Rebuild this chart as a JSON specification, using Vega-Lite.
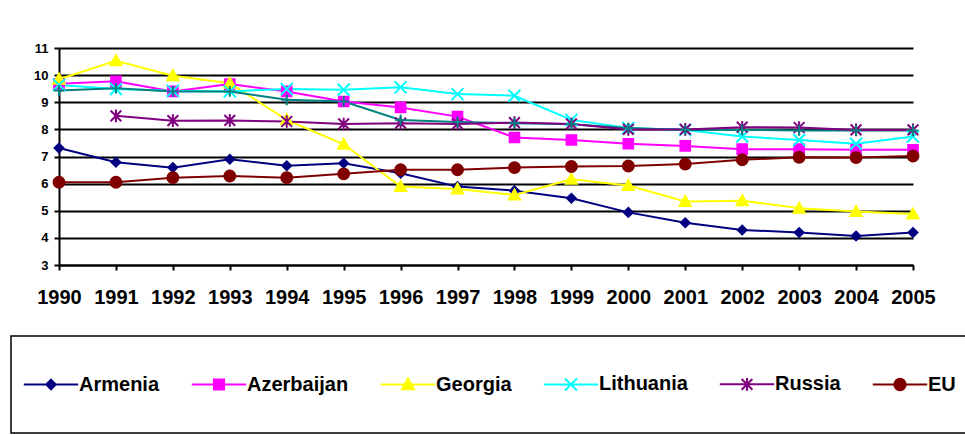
{
  "$schema": "https://vega.github.io/schema/vega-lite/v6.json",
  "width": 854,
  "height": 217,
  "autosize": {"type": "none"},
  "padding": {"left": 59, "top": 48, "right": 52, "bottom": 170},
  "background": "white",
  "config": {
    "view": {"stroke": null},
    "font": "Liberation Sans",
    "legend": {"strokeColor": "black", "strokeWidth": 1.5}
  },
  "data": {
    "values": [
      {"year": "1990", "Armenia": 7.31, "Azerbaijan": 9.68, "Georgia": 9.85, "Lithuania": 9.64, "Russia": null, "EU": 6.05, "CIS": 9.43},
      {"year": "1991", "Armenia": 6.79, "Azerbaijan": 9.77, "Georgia": 10.53, "Lithuania": 9.49, "Russia": 8.5, "EU": 6.05, "CIS": 9.52},
      {"year": "1992", "Armenia": 6.59, "Azerbaijan": 9.4, "Georgia": 9.98, "Lithuania": 9.42, "Russia": 8.32, "EU": 6.22, "CIS": 9.4},
      {"year": "1993", "Armenia": 6.9, "Azerbaijan": 9.67, "Georgia": 9.7, "Lithuania": 9.4, "Russia": 8.33, "EU": 6.28, "CIS": 9.4},
      {"year": "1994", "Armenia": 6.66, "Azerbaijan": 9.4, "Georgia": 8.35, "Lithuania": 9.49, "Russia": 8.29, "EU": 6.22, "CIS": 9.09},
      {"year": "1995", "Armenia": 6.75, "Azerbaijan": 9.03, "Georgia": 7.45, "Lithuania": 9.46, "Russia": 8.2, "EU": 6.36, "CIS": 9.03},
      {"year": "1996", "Armenia": 6.38, "Azerbaijan": 8.81, "Georgia": 5.89, "Lithuania": 9.55, "Russia": 8.23, "EU": 6.51, "CIS": 8.35},
      {"year": "1997", "Armenia": 5.89, "Azerbaijan": 8.47, "Georgia": 5.8, "Lithuania": 9.3, "Russia": 8.2, "EU": 6.51, "CIS": 8.27},
      {"year": "1998", "Armenia": 5.74, "Azerbaijan": 7.7, "Georgia": 5.58, "Lithuania": 9.24, "Russia": 8.25, "EU": 6.59, "CIS": 8.23},
      {"year": "1999", "Armenia": 5.46, "Azerbaijan": 7.61, "Georgia": 6.16, "Lithuania": 8.35, "Russia": 8.2, "EU": 6.63, "CIS": 8.19},
      {"year": "2000", "Armenia": 4.94, "Azerbaijan": 7.47, "Georgia": 5.93, "Lithuania": 8.05, "Russia": 8.0, "EU": 6.65, "CIS": 8.05},
      {"year": "2001", "Armenia": 4.56, "Azerbaijan": 7.39, "Georgia": 5.34, "Lithuania": 7.98, "Russia": 8.0, "EU": 6.72, "CIS": 7.98},
      {"year": "2002", "Armenia": 4.29, "Azerbaijan": 7.27, "Georgia": 5.37, "Lithuania": 7.74, "Russia": 8.08, "EU": 6.88, "CIS": 7.98},
      {"year": "2003", "Armenia": 4.2, "Azerbaijan": 7.27, "Georgia": 5.09, "Lithuania": 7.61, "Russia": 8.07, "EU": 6.97, "CIS": 7.96},
      {"year": "2004", "Armenia": 4.07, "Azerbaijan": 7.25, "Georgia": 4.97, "Lithuania": 7.47, "Russia": 7.98, "EU": 6.96, "CIS": 7.96},
      {"year": "2005", "Armenia": 4.2, "Azerbaijan": 7.25, "Georgia": 4.88, "Lithuania": 7.74, "Russia": 7.98, "EU": 7.02, "CIS": 7.96}
    ]
  },
  "transform": [
    {"fold": ["Armenia", "Azerbaijan", "Georgia", "Lithuania", "Russia", "EU", "CIS"], "as": ["country", "value"]},
    {"filter": "isValid(datum.value)"}
  ],
  "encoding": {
    "x": {
      "field": "year", "type": "ordinal",
      "scale": {"type": "point", "padding": 0},
      "axis": {
        "title": null, "labelAngle": 0, "labelFont": "Liberation Sans", "labelFontSize": 20, "labelFontWeight": "bold",
        "labelColor": "black", "labelPadding": 17, "labelOverlap": false, "tickSize": 5, "tickWidth": 2, "tickColor": "black",
        "domainColor": "black", "domainWidth": 2, "grid": false
      }
    },
    "y": {
      "field": "value", "type": "quantitative",
      "scale": {"domain": [3, 11], "nice": false, "zero": false},
      "axis": {
        "title": null, "values": [3, 4, 5, 6, 7, 8, 9, 10, 11], "grid": true, "gridColor": "black", "gridWidth": 2, "gridOpacity": 1,
        "labelFont": "Liberation Sans", "labelFontSize": 13, "labelFontWeight": "bold", "labelColor": "black", "labelPadding": 6,
        "tickSize": 5, "tickWidth": 2, "tickColor": "black", "domainColor": "black", "domainWidth": 2
      }
    }
  },
  "layer": [
    {
      "mark": {"type": "line", "strokeWidth": 2},
      "encoding": {
        "color": {
          "field": "country", "type": "nominal",
          "scale": {
            "domain": ["Armenia", "Azerbaijan", "Georgia", "Lithuania", "Russia", "EU", "CIS"],
            "range": ["#000080", "#FF00FF", "#FFFF00", "#00FFFF", "#800080", "#800000", "#008080"]
          },
          "legend": {
            "orient": "none", "legendX": -48, "legendY": 288, "direction": "horizontal", "title": null,
            "values": ["Armenia", "Azerbaijan", "Georgia", "Lithuania", "Russia", "EU"],
            "padding": 38, "labelFont": "Liberation Sans", "labelFontSize": 20, "labelFontWeight": "bold", "labelColor": "black",
            "labelOffset": 18, "symbolOffset": -8, "columnPadding": 27, "symbolSize": 160, "symbolStrokeWidth": 2, "symbolOpacity": 1
          }
        }
      }
    },
    {"transform": [{"filter": "datum.country === 'Armenia'"}], "mark": {"type": "point", "shape": "M0,-0.75L0.75,0L0,0.75L-0.75,0Z", "filled": true, "fill": "#000080", "stroke": "#000080", "strokeWidth": 1.5, "size": 160, "opacity": 1}},
    {"transform": [{"filter": "datum.country === 'Azerbaijan'"}], "mark": {"type": "point", "shape": "M-0.8,-0.8L0.8,-0.8L0.8,0.8L-0.8,0.8Z", "filled": true, "fill": "#FF00FF", "stroke": "#FF00FF", "strokeWidth": 1.5, "size": 160, "opacity": 1}},
    {"transform": [{"filter": "datum.country === 'Georgia'"}], "mark": {"type": "point", "shape": "M0,-0.95L0.95,0.75L-0.95,0.75Z", "filled": true, "fill": "#FFFF00", "stroke": "#FFFF00", "strokeWidth": 1.5, "size": 160, "opacity": 1}},
    {"transform": [{"filter": "datum.country === 'Lithuania'"}], "mark": {"type": "point", "shape": "M-0.95,-0.95L0.95,0.95M-0.95,0.95L0.95,-0.95", "filled": true, "fill": "#00FFFF", "stroke": "#00FFFF", "strokeWidth": 2, "size": 160, "opacity": 1}},
    {"transform": [{"filter": "datum.country === 'Russia'"}], "mark": {"type": "point", "shape": "M-0.85,-0.85L0.85,0.85M-0.85,0.85L0.85,-0.85M0,-1L0,1", "filled": true, "fill": "#800080", "stroke": "#800080", "strokeWidth": 2, "size": 160, "opacity": 1}},
    {"transform": [{"filter": "datum.country === 'EU'"}], "mark": {"type": "point", "shape": "M0.9,0L0.831,0.344L0.636,0.636L0.344,0.831L0,0.9L-0.344,0.831L-0.636,0.636L-0.831,0.344L-0.9,0L-0.831,-0.344L-0.636,-0.636L-0.344,-0.831L0,-0.9L0.344,-0.831L0.636,-0.636L0.831,-0.344Z", "filled": true, "fill": "#800000", "stroke": "#800000", "strokeWidth": 1.5, "size": 160, "opacity": 1}},
    {"transform": [{"filter": "datum.country === 'CIS'"}], "mark": {"type": "point", "shape": "M0,-0.85L0,0.85M-0.85,0L0.85,0", "filled": true, "fill": "#008080", "stroke": "#008080", "strokeWidth": 2, "size": 160, "opacity": 1}},
    {
      "mark": {"type": "point", "filled": true, "opacity": 0, "size": 160, "strokeWidth": 2},
      "encoding": {
        "color": {
          "field": "country", "type": "nominal",
          "scale": {
            "domain": ["Armenia", "Azerbaijan", "Georgia", "Lithuania", "Russia", "EU", "CIS"],
            "range": ["#000080", "#FF00FF", "#FFFF00", "#00FFFF", "#800080", "#800000", "#008080"]
          },
          "legend": {
            "orient": "none", "legendX": -48, "legendY": 288, "direction": "horizontal", "title": null,
            "values": ["Armenia", "Azerbaijan", "Georgia", "Lithuania", "Russia", "EU"],
            "padding": 38, "labelFont": "Liberation Sans", "labelFontSize": 20, "labelFontWeight": "bold", "labelColor": "black",
            "labelOffset": 18, "symbolOffset": -8, "columnPadding": 27, "symbolSize": 160, "symbolStrokeWidth": 2, "symbolOpacity": 1
          }
        },
        "shape": {
          "field": "country", "type": "nominal",
          "scale": {
            "domain": ["Armenia", "Azerbaijan", "Georgia", "Lithuania", "Russia", "EU", "CIS"],
            "range": [
              "M-4.3,0L4.3,0M0,-0.75L0.75,0L0,0.75L-0.75,0Z",
              "M-4.3,0L4.3,0M-0.8,-0.8L0.8,-0.8L0.8,0.8L-0.8,0.8Z",
              "M-4.3,0L4.3,0M0,-0.95L0.95,0.75L-0.95,0.75Z",
              "M-4.3,0L4.3,0M-0.95,-0.95L0.95,0.95M-0.95,0.95L0.95,-0.95",
              "M-4.3,0L4.3,0M-0.85,-0.85L0.85,0.85M-0.85,0.85L0.85,-0.85M0,-1L0,1",
              "M-4.3,0L4.3,0M0.9,0L0.831,0.344L0.636,0.636L0.344,0.831L0,0.9L-0.344,0.831L-0.636,0.636L-0.831,0.344L-0.9,0L-0.831,-0.344L-0.636,-0.636L-0.344,-0.831L0,-0.9L0.344,-0.831L0.636,-0.636L0.831,-0.344Z",
              "M-4.3,0L4.3,0M0,-0.85L0,0.85M-0.85,0L0.85,0"
            ]
          },
          "legend": {
            "orient": "none", "legendX": -48, "legendY": 288, "direction": "horizontal", "title": null,
            "values": ["Armenia", "Azerbaijan", "Georgia", "Lithuania", "Russia", "EU"],
            "padding": 38, "labelFont": "Liberation Sans", "labelFontSize": 20, "labelFontWeight": "bold", "labelColor": "black",
            "labelOffset": 18, "symbolOffset": -8, "columnPadding": 27, "symbolSize": 160, "symbolStrokeWidth": 2, "symbolOpacity": 1
          }
        }
      }
    }
  ]
}
